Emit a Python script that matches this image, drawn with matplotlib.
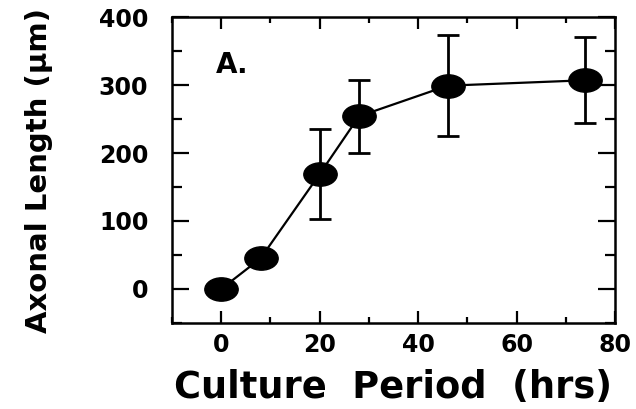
import matplotlib
matplotlib.use("Agg")
import matplotlib.pyplot as plt
from matplotlib.path import Path
from matplotlib.markers import MarkerStyle
from matplotlib.transforms import Affine2D
from matplotlib.ticker import MultipleLocator

# Axonal growth over time in culture
hours = [0, 8, 20, 28, 46, 74]
axon_length = [0, 45, 169, 254, 299, 307]
sem = [0, 0, 66, 54, 74, 63]

x_ticks = [0, 20, 40, 60, 80]
y_ticks = [0, 100, 200, 300, 400]

plt.rcParams["font.family"] = ["DejaVu Sans"]
plt.rcParams["font.weight"] = "bold"

fig = plt.figure(figsize=(6.36, 4.09), dpi=100)
ax = fig.add_axes([0.2704, 0.2103, 0.6966, 0.7481])

# wide elliptical marker
ellipse = Path.unit_circle().transformed(Affine2D().scale(1.0, 0.7))
marker = MarkerStyle(ellipse)

ax.errorbar(hours, axon_length, yerr=sem, fmt="none", ecolor="black",
            elinewidth=2.0, capsize=8, capthick=2.0, zorder=2)
ax.plot(hours, axon_length, color="black", lw=1.6, marker=marker,
        markersize=24, markerfacecolor="black", markeredgecolor="black",
        zorder=3)

ax.set_xlim(-10, 80)
ax.set_ylim(-50, 400)
ax.set_xticks(x_ticks)
ax.set_yticks(y_ticks)
ax.xaxis.set_minor_locator(MultipleLocator(10))
ax.yaxis.set_minor_locator(MultipleLocator(50))

for s in ax.spines.values():
    s.set_linewidth(1.8)

ax.tick_params(axis="x", which="major", direction="in", length=8.5, width=1.6,
               top=True, labelsize=17, pad=7)
ax.tick_params(axis="x", which="minor", direction="in", length=4.5, width=1.6,
               top=True)
ax.tick_params(axis="y", which="major", direction="in", length=12, width=1.6,
               right=True, labelsize=17, pad=17)
ax.tick_params(axis="y", which="minor", direction="in", length=7, width=1.6,
               right=True)
for lbl in ax.get_xticklabels() + ax.get_yticklabels():
    lbl.set_fontweight("bold")

ax.set_xlabel("Culture  Period  (hrs)", fontsize=26.5, fontweight="bold",
              labelpad=9)
ax.set_ylabel("Axonal Length (\u03bcm)", fontsize=21, fontweight="bold",
              labelpad=33)

ax.text(-1, 318, "A.", fontsize=20, fontweight="bold", ha="left",
        va="baseline")

fig.savefig("out.png", dpi=100)
